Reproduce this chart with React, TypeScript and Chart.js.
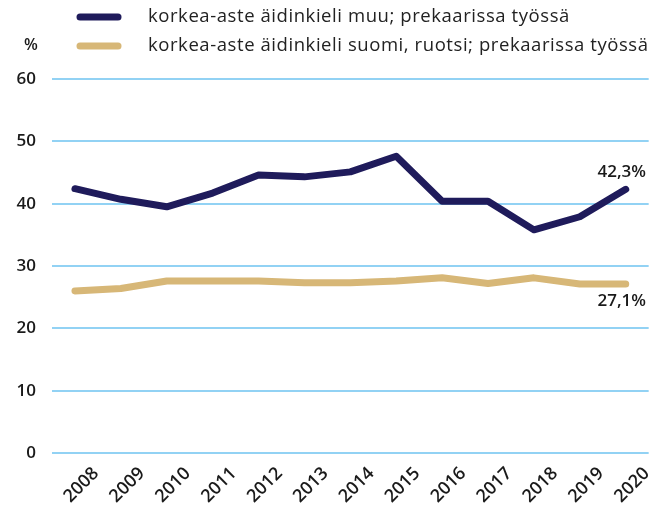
import React, { useEffect, useRef } from "react";
import { Chart, registerables } from "chart.js";

Chart.register(...registerables);

const years = ["2008","2009","2010","2011","2012","2013","2014","2015","2016","2017","2018","2019","2020"];
const muuValues = [42.4, 40.7, 39.5, 41.7, 44.6, 44.3, 45.1, 47.6, 40.4, 40.4, 35.8, 37.9, 42.3];
const suomiValues = [26.0, 26.4, 27.6, 27.6, 27.6, 27.3, 27.3, 27.6, 28.1, 27.2, 28.1, 27.1, 27.1];
const seriesNames = [
  "korkea-aste äidinkieli muu; prekaarissa työssä",
  "korkea-aste äidinkieli suomi, ruotsi; prekaarissa työssä",
];
const endLabels = ["42,3%", "27,1%"];
const yTicks = [0, 10, 20, 30, 40, 50, 60];
const unitLabel = "%";

const NAVY = "#1f1b5b";
const GOLD = "#d7b777";
const GRID = "#92d2f4";
const TEXT = "#1a1a1a";
const FONT = "'Open Sans', Lato, sans-serif";

const overlay = {
  id: "overlay",
  afterDraw(chart: any) {
    const ctx = chart.ctx;
    ctx.save();
    const colors = [NAVY, GOLD];
    const ys = [17, 46];
    ctx.font = `18.5px ${FONT}`;
    const n2 = seriesNames[1];
    const sp = (500 - ctx.measureText(n2).width) / (n2.length - 1);
    seriesNames.forEach((name, i) => {
      ctx.strokeStyle = colors[i];
      ctx.lineWidth = 7;
      ctx.lineCap = "round";
      ctx.beginPath();
      ctx.moveTo(80, ys[i]);
      ctx.lineTo(118, ys[i]);
      ctx.stroke();
      ctx.fillStyle = "#222";
      ctx.font = `18.5px ${FONT}`;
      ctx.textAlign = "left";
      ctx.textBaseline = "middle";
      (ctx as any).letterSpacing = `${Math.max(0, sp)}px`;
      ctx.fillText(name, 148, ys[i]);
      (ctx as any).letterSpacing = "0px";
    });
    ctx.font = `600 16px ${FONT}`;
    ctx.fillStyle = TEXT;
    ctx.textAlign = "center";
    ctx.fillText(unitLabel, 31, 45);
    const ysc = chart.scales.y;
    const last = years.length - 1;
    ctx.font = `600 17px ${FONT}`;
    ctx.textAlign = "right";
    ctx.fillText(endLabels[0], 646, ysc.getPixelForValue(muuValues[last]) - 17);
    ctx.fillText(endLabels[1], 646, ysc.getPixelForValue(suomiValues[last]) + 17);
    ctx.restore();
  },
};

export default function App() {
  const ref = useRef<HTMLCanvasElement>(null);
  useEffect(() => {
    if (!ref.current) return;
    const chart = new Chart(ref.current, {
      type: "line",
      data: {
        labels: years,
        datasets: [
          {
            label: seriesNames[0],
            data: muuValues,
            borderColor: NAVY,
            backgroundColor: NAVY,
            borderWidth: 7,
            pointRadius: 0,
            tension: 0,
            borderCapStyle: "round",
            borderJoinStyle: "round",
          },
          {
            label: seriesNames[1],
            data: suomiValues,
            borderColor: GOLD,
            backgroundColor: GOLD,
            borderWidth: 7,
            pointRadius: 0,
            tension: 0,
            borderCapStyle: "round",
            borderJoinStyle: "round",
          },
        ],
      },
      options: {
        animation: false,
        responsive: false,
        layout: { padding: { top: 79, right: 0, left: 0, bottom: 0 } },
        plugins: { legend: { display: false }, tooltip: { enabled: false } },
        scales: {
          x: {
            offset: true,
            grid: { display: false, drawTicks: false },
            border: { display: false },
            ticks: {
              maxRotation: 45,
              minRotation: 45,
              labelOffset: 21,
              padding: 10,
              color: TEXT,
              font: { family: FONT, size: 18, weight: "600" },
            },
            afterFit(scale: any) {
              scale.height = 57;
            },
          },
          y: {
            min: 0,
            max: 60,
            afterBuildTicks(scale: any) {
              scale.ticks = yTicks.map((v) => ({ value: v }));
            },
            grid: { color: GRID, lineWidth: 2, drawTicks: false },
            border: { display: false },
            ticks: {
              padding: 16,
              color: TEXT,
              font: { family: FONT, size: 17, weight: "600" },
            },
            afterFit(scale: any) {
              scale.width = 52;
            },
          },
        },
      },
      plugins: [overlay],
    });
    return () => chart.destroy();
  }, []);
  return (
    <div style={{ position: "fixed", left: 0, top: 0, width: 651, height: 510, background: "#fff" }}>
      <canvas ref={ref} width={651} height={510} style={{ width: 651, height: 510 }} />
    </div>
  );
}
